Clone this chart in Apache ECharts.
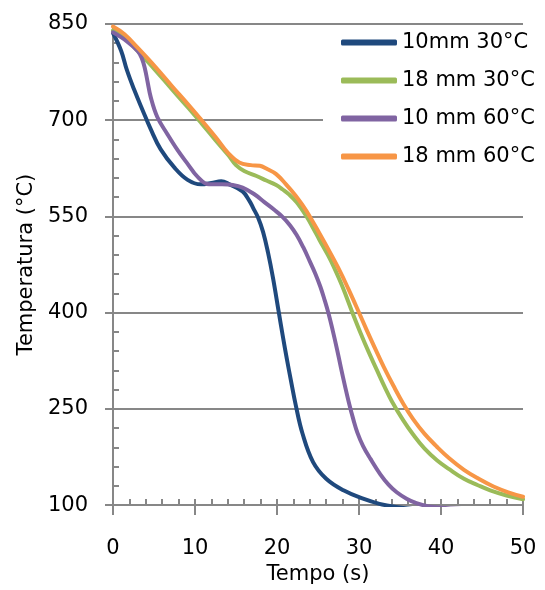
<!DOCTYPE html>
<html>
<head>
<meta charset="utf-8">
<script src="https://cdn.jsdelivr.net/npm/echarts@6/dist/echarts.min.js"></script>
<style>
  html, body { margin: 0; padding: 0; background: #fff; }
  #chart { width: 545px; height: 590px; }
</style>
</head>
<body>
<div id="chart"></div>
<script>
// Cooling curves: temperature (°C) against time (s)
const seriesNames = ['10mm 30°C', '18 mm 30°C', '10 mm 60°C', '18 mm 60°C'];
const seriesColors = ['#1F497D', '#9BBB59', '#8064A2', '#F79646'];

const t10mm30 = [0, 1, 1.7, 2.6, 3.6, 4.6, 5.8, 7.5, 9.1, 10.7, 12, 13.2, 14.2, 15.8, 16.6, 17.1, 17.7, 18.3, 18.9, 19.5, 20.2, 20.7, 21.2, 21.7, 22.3, 23.1, 24.4, 26, 28.1, 30.5, 32.5, 34.5, 36.5];
const T10mm30 = [836, 808, 778, 747, 716, 686, 655, 626, 607, 600, 602, 605, 600, 589, 575, 563, 548, 526, 494, 455, 402, 364, 328, 294, 255, 212, 167, 141, 123, 110, 102, 97, 94];

const t18mm30 = [0, 1.4, 3, 5.1, 7.2, 9.2, 10.8, 12.5, 14.1, 15, 16, 17.5, 18.7, 19.9, 20.7, 21.5, 22.4, 23.6, 24.4, 25.2, 26.2, 26.9, 28, 29.2, 30.2, 31.2, 32.2, 33.1, 34, 35.4, 36.6, 38, 39.5, 41, 42.8, 44.5, 46, 48, 50];
const T18mm30 = [840, 829, 808, 779, 748, 719, 695, 669, 645, 630, 621, 613, 606, 599, 592, 584, 572, 550, 532, 513, 490, 472, 440, 400, 368, 338, 310, 285, 262, 232, 210, 188, 170, 156, 141, 131, 123, 115, 109];

const t10mm60 = [0, 1.7, 3, 3.5, 3.9, 4.2, 4.6, 5.4, 6.6, 7.9, 9.1, 10.3, 11.7, 13.3, 14.6, 15.8, 17.2, 18.5, 19.7, 20.7, 21.6, 22.4, 23.2, 24, 24.7, 25.3, 25.8, 26.3, 26.8, 27.3, 27.8, 28.3, 28.8, 29.3, 29.8, 30.5, 31.4, 32.6, 33.6, 34.6, 35.8, 37, 38.5, 40, 42.5];
const T10mm60 = [837, 823, 808, 797, 780, 761, 736, 705, 679, 653, 632, 612, 600, 600, 599, 595, 585, 572, 560, 549, 536, 521, 502, 480, 460, 440, 420, 398, 372, 344, 314, 285, 258, 234, 213, 192, 172, 148, 132, 120, 110, 103, 98, 96, 94];

const t18mm60 = [0, 1.4, 3, 5.1, 7.2, 9.2, 10.8, 12.5, 14.1, 15.4, 16.8, 17.9, 18.8, 19.9, 21.1, 22.3, 23.2, 24, 25.2, 26.2, 27.7, 28.7, 29.9, 30.9, 31.9, 33, 34.2, 35.4, 36.6, 38, 39.5, 41, 42.8, 44.6, 46.4, 48.2, 50];
const T18mm60 = [846, 834, 813, 784, 753, 724, 700, 674, 648, 634, 630, 629, 624, 616, 600, 582, 566, 550, 523, 500, 464, 437, 403, 374, 346, 316, 286, 258, 234, 211, 191, 173, 155, 141, 129, 120, 113];

const xTicks = [0, 10, 20, 30, 40, 50];
const yTicks = [100, 250, 400, 550, 700, 850];

const FONT = 'DejaVu Sans';
const GRAY = '#878787';

function pairs(ts, vs) { return ts.map((t, i) => [t, vs[i]]); }
const curves = [pairs(t10mm30, T10mm30), pairs(t18mm30, T18mm30), pairs(t10mm60, T10mm60), pairs(t18mm60, T18mm60)];

const chart = echarts.init(document.getElementById('chart'), null, { renderer: 'canvas' });

chart.setOption({
  animation: false,
  backgroundColor: '#fff',
  grid: { left: 113, right: 22, top: 24, bottom: 81, containLabel: false },
  legend: {
    orient: 'vertical',
    left: 323,
    top: 26,
    width: 222,
    padding: [6, 10, 8, 18],
    backgroundColor: '#fff',
    itemWidth: 56,
    itemHeight: 6,
    itemGap: 17,
    icon: 'roundRect',
    textStyle: { fontFamily: FONT, fontSize: 21, color: '#000' },
    data: seriesNames
  },
  xAxis: [
    {
      type: 'value', min: xTicks[0], max: xTicks[xTicks.length - 1], interval: 10,
      name: 'Tempo (s)', nameLocation: 'middle', nameGap: 56,
      nameTextStyle: { fontFamily: FONT, fontSize: 21, color: '#000' },
      axisLine: { show: true, onZero: false, lineStyle: { color: GRAY, width: 2 } },
      axisTick: { show: true, inside: false, length: 10, lineStyle: { color: GRAY, width: 2 } },
      axisLabel: { fontFamily: FONT, fontSize: 21, color: '#000', margin: 33 },
      splitLine: { show: false }
    },
    {
      // minor ticks every 2 s, pointing into the plot
      type: 'value', min: 0, max: 50, interval: 2, position: 'bottom',
      axisLine: { show: false, onZero: false },
      axisTick: { show: true, inside: true, length: 6, lineStyle: { color: GRAY, width: 2 } },
      axisLabel: { show: false },
      splitLine: { show: false }
    }
  ],
  yAxis: [
    {
      type: 'value', min: yTicks[0], max: yTicks[yTicks.length - 1], interval: 150,
      name: 'Temperatura (°C)', nameLocation: 'middle', nameGap: 76,
      nameTextStyle: { fontFamily: FONT, fontSize: 21, color: '#000' },
      axisLine: { show: true, onZero: false, lineStyle: { color: GRAY, width: 2 } },
      axisTick: { show: true, inside: false, length: 8, lineStyle: { color: GRAY, width: 2 } },
      axisLabel: { fontFamily: FONT, fontSize: 21, color: '#000', margin: 25 },
      splitLine: { show: true, lineStyle: { color: GRAY, width: 2 } }
    },
    {
      // minor ticks every 30 °C, pointing into the plot
      type: 'value', min: 100, max: 850, interval: 30, position: 'left',
      axisLine: { show: false, onZero: false },
      axisTick: { show: true, inside: true, length: 6, lineStyle: { color: GRAY, width: 2 } },
      axisLabel: { show: false },
      splitLine: { show: false }
    }
  ],
  series: curves.map((d, i) => ({
    name: seriesNames[i],
    type: 'line',
    xAxisIndex: 0,
    yAxisIndex: 0,
    data: d,
    smooth: 0.4,
    symbol: 'none',
    clip: true,
    color: seriesColors[i],
    lineStyle: { width: 4, color: seriesColors[i], cap: 'round', join: 'round' }
  }))
});
</script>
</body>
</html>
